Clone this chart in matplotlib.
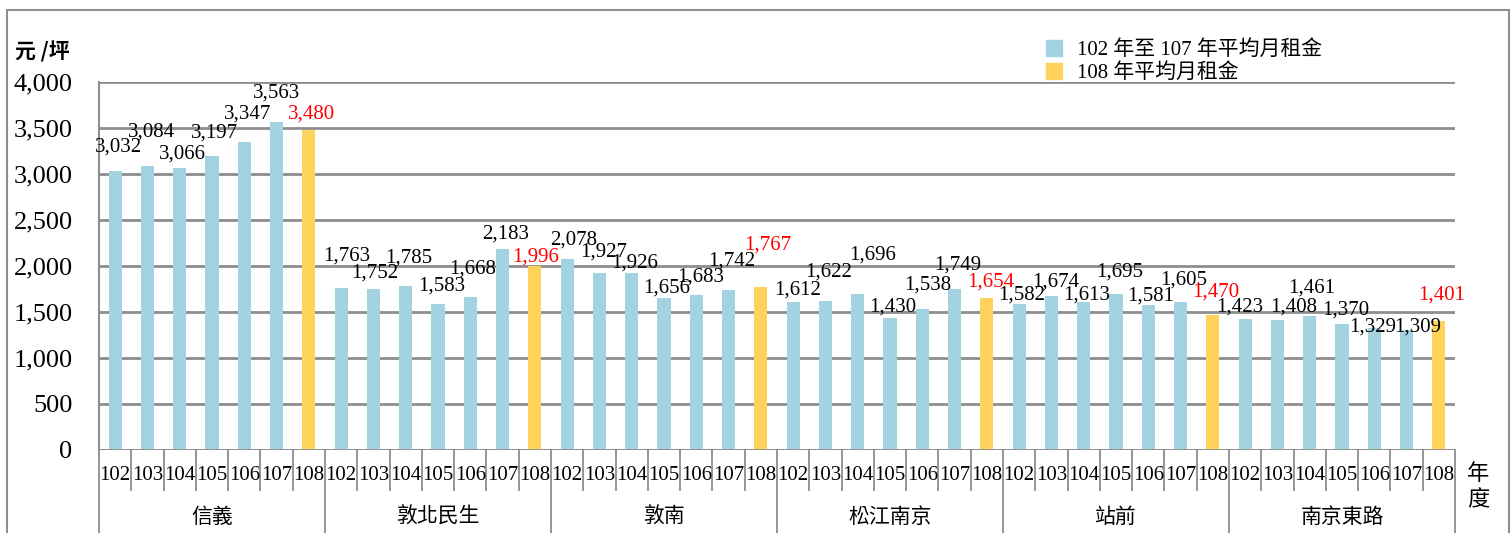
import matplotlib
matplotlib.use("Agg")
import matplotlib.pyplot as plt
from matplotlib.patches import Rectangle
from matplotlib.ticker import FuncFormatter

# ── Data ────────────────────────────────────────────────────────────────────
districts = ["信義", "敦北民生", "敦南", "松江南京", "站前", "南京東路"]
years = ["102", "103", "104", "105", "106", "107", "108"]
rent_xinyi = [3032, 3084, 3066, 3197, 3347, 3563, 3480]
rent_dunbei = [1763, 1752, 1785, 1583, 1668, 2183, 1996]
rent_dunnan = [2078, 1927, 1926, 1656, 1683, 1742, 1767]
rent_songjiang = [1612, 1622, 1696, 1430, 1538, 1749, 1654]
rent_station = [1582, 1674, 1613, 1695, 1581, 1605, 1470]
rent_njeast = [1423, 1408, 1461, 1370, 1329, 1309, 1401]
rents = [rent_xinyi, rent_dunbei, rent_dunnan, rent_songjiang, rent_station, rent_njeast]

# label nudges (pixels) to mimic the spreadsheet's label placement
label_dx = [3, 4, 3, 3, 3, 0, 3,
            6, 1, 3, 4, 2, 3, 1,
            6, 4, 3, 3, 4, 3, 7,
            4, 3, 15, 3, 5, 3, 4,
            3, 4, 3, 4, 2, 3, 3,
            -5, 16, 2, 4, -2, 11, 3]
label_dy = [24, 34, 14, 23, 28, 29, 16,
            32, 16, 28, 18, 27, 15, 9,
            19, 21, 10, 10, 18, 29, 42,
            12, 29, 39, 11, 23, 24, 16,
            9, 14, 7, 22, 9, 22, 23,
            12, 13, 28, 14, 1, 3, 26]

BLUE = "#A3D3E0"
YELLOW = "#FFD25C"
GRID = "#8E8E8E"
SERIF = ["Liberation Serif", "Noto Sans CJK TC"]
CJK = ["Noto Sans CJK TC", "DejaVu Sans"]

W, H = 1511, 533
fig = plt.figure(figsize=(W / 100, H / 100), dpi=100)
ax = fig.add_axes([99 / W, 1 - 450 / H, (1455 - 99) / W, 368 / H])

n_years = len(years)
values, colors, tcolors = [], [], []
for d in rents:
    for j, v in enumerate(d):
        values.append(v)
        last = j == n_years - 1
        colors.append(YELLOW if last else BLUE)
        tcolors.append("red" if last else "black")
xs = [i + 0.5 for i in range(len(values))]

ax.bar(xs, values, width=0.41, color=colors, zorder=3)

for i, (x, v) in enumerate(zip(xs, values)):
    ax.annotate(f"{v:,}", (x, v), xytext=(label_dx[i], label_dy[i]),
                textcoords="offset pixels", ha="center", va="center",
                fontsize=15, family=SERIF, color=tcolors[i], zorder=5)

ax.set_xlim(0, len(values))
ax.set_ylim(0, 4000)
ax.set_yticks(range(0, 4001, 500))
ax.yaxis.set_major_formatter(FuncFormatter(lambda v, p: f"{int(v):,}"))
ax.tick_params(axis="y", length=0, pad=19)
for t in ax.get_yticklabels():
    t.set_family(SERIF)
    t.set_fontsize(19)
ax.set_xticks([])
ax.grid(axis="y", color=GRID, linewidth=2, zorder=0)
for s in ["top", "right", "bottom"]:
    ax.spines[s].set_visible(False)
ax.spines["left"].set_color(GRID)
ax.spines["left"].set_linewidth(1.5)
ax.axhline(0, color=GRID, linewidth=2, zorder=4)

# category axis below: year ticks and district groups
tr = ax.get_xaxis_transform()
short = -40 / 368
long_ = -(H - 450) / 368
for k in range(len(values) + 1):
    bottom = long_ if k % n_years == 0 else short
    ax.plot([k, k], [0, bottom], transform=tr, color=GRID, lw=1.3,
            clip_on=False)
for i, x in enumerate(xs):
    ax.text(x, -25 / 368, years[i % n_years], transform=tr, ha="center",
            va="center", fontsize=15, family=SERIF)
for g, name in enumerate(districts):
    ax.text(g * n_years + n_years / 2, -67 / 368, name,
            transform=tr, ha="center", va="center", fontsize=15, family=CJK)

# axis titles
fig.text(15 / W, 1 - 52 / H, "元 /坪", fontsize=15, fontweight="bold",
         family=CJK, ha="left", va="center")
fig.text(1478 / W, 1 - 487 / H, "年\n度", fontsize=16, family=CJK,
         ha="center", va="center", linespacing=1.2)

# legend
ax.legend(handles=[Rectangle((0, 0), 1, 1, color=BLUE),
                   Rectangle((0, 0), 1, 1, color=YELLOW)],
          labels=["102 年至 107 年平均月租金", "108 年平均月租金"],
          loc="upper left", bbox_to_anchor=((1038 - 99) / 1356, 1 + 50 / 368),
          frameon=False, prop={"family": SERIF, "size": 15},
          handlelength=0.75, handleheight=0.75, handletextpad=0.7,
          labelspacing=0.15, borderaxespad=0)

# outer frame
fig.add_artist(Rectangle((7 / W, -0.05), (1509 - 7) / W, 1.05 - 10 / H,
                         transform=fig.transFigure, fill=False,
                         edgecolor=GRID, linewidth=1.5))

fig.savefig("out.png", dpi=100)
